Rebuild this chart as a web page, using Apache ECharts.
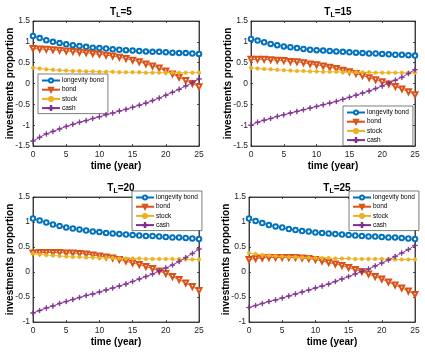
<!DOCTYPE html>
<html>
<head>
<meta charset="utf-8">
<script src="https://cdn.jsdelivr.net/npm/echarts@6/dist/echarts.min.js"></script>
<style>
  html, body { margin: 0; padding: 0; background: #fff; }
  #chart { width: 425px; height: 352px; }
</style>
</head>
<body>
<div id="chart"></div>
<script>
// 时间轴 (year)
var years = [0,1,2,3,4,5,6,7,8,9,10,11,12,13,14,15,16,17,18,19,20,21,22,23,24,25];
var seriesNames = ['longevity bond', 'bond', 'stock', 'cash'];
var panelTitles = ['5', '15', '20', '25'];

// T_L = 5
var longevity5 = [1.14,1.09,1.04,1.00,0.97,0.94,0.92,0.90,0.88,0.86,0.85,0.84,0.82,0.81,0.80,0.79,0.78,0.77,0.76,0.76,0.75,0.74,0.73,0.73,0.72,0.71];
var bond5 = [0.84,0.83,0.82,0.81,0.80,0.78,0.77,0.75,0.74,0.72,0.70,0.68,0.66,0.63,0.60,0.56,0.52,0.47,0.42,0.37,0.30,0.23,0.15,0.07,0.00,-0.08];
var stock5 = [0.38,0.36,0.34,0.33,0.32,0.31,0.30,0.30,0.29,0.29,0.28,0.28,0.28,0.27,0.27,0.27,0.27,0.26,0.26,0.26,0.26,0.26,0.26,0.26,0.26,0.26];
var cash5 = [-1.38,-1.29,-1.21,-1.15,-1.09,-1.03,-0.98,-0.93,-0.89,-0.84,-0.80,-0.75,-0.71,-0.66,-0.62,-0.57,-0.52,-0.47,-0.41,-0.35,-0.28,-0.21,-0.14,-0.06,0.02,0.11];

// T_L = 15
var longevity15 = [1.07,1.03,0.99,0.95,0.92,0.89,0.87,0.85,0.83,0.81,0.80,0.79,0.78,0.77,0.76,0.75,0.74,0.73,0.72,0.72,0.71,0.70,0.69,0.69,0.68,0.67];
var bond15 = [0.58,0.58,0.58,0.57,0.56,0.55,0.53,0.52,0.50,0.47,0.45,0.42,0.39,0.36,0.32,0.28,0.24,0.19,0.14,0.09,0.04,-0.01,-0.07,-0.13,-0.20,-0.27];
var stock15 = [0.38,0.36,0.35,0.34,0.33,0.32,0.31,0.30,0.30,0.29,0.29,0.28,0.28,0.28,0.27,0.27,0.27,0.27,0.27,0.26,0.26,0.26,0.26,0.26,0.26,0.26];
var cash15 = [-1.00,-0.93,-0.88,-0.84,-0.79,-0.75,-0.71,-0.67,-0.63,-0.59,-0.55,-0.51,-0.47,-0.43,-0.38,-0.33,-0.28,-0.23,-0.18,-0.12,-0.06,0.01,0.08,0.15,0.24,0.33];

// T_L = 20
var longevity20 = [1.07,1.03,0.99,0.95,0.92,0.89,0.87,0.85,0.83,0.81,0.80,0.78,0.77,0.76,0.75,0.74,0.73,0.72,0.72,0.71,0.70,0.69,0.69,0.68,0.67,0.66];
var bond20 = [0.38,0.39,0.39,0.39,0.39,0.38,0.38,0.37,0.36,0.34,0.32,0.30,0.28,0.25,0.22,0.18,0.15,0.11,0.07,0.02,-0.03,-0.09,-0.15,-0.22,-0.29,-0.37];
var stock20 = [0.37,0.35,0.34,0.33,0.32,0.31,0.30,0.30,0.29,0.29,0.28,0.28,0.28,0.27,0.27,0.27,0.27,0.26,0.26,0.26,0.26,0.26,0.26,0.25,0.25,0.25];
var cash20 = [-0.82,-0.77,-0.72,-0.68,-0.63,-0.59,-0.55,-0.51,-0.47,-0.44,-0.40,-0.36,-0.32,-0.28,-0.24,-0.19,-0.14,-0.09,-0.04,0.02,0.08,0.14,0.21,0.29,0.37,0.46];

// T_L = 25
var longevity25 = [1.07,1.02,0.98,0.94,0.91,0.89,0.86,0.84,0.82,0.81,0.79,0.78,0.77,0.76,0.75,0.74,0.73,0.72,0.71,0.71,0.70,0.69,0.69,0.68,0.67,0.66];
var bond25 = [0.25,0.27,0.28,0.29,0.29,0.29,0.29,0.29,0.28,0.27,0.25,0.22,0.19,0.16,0.13,0.09,0.05,0.01,-0.04,-0.09,-0.14,-0.20,-0.26,-0.32,-0.38,-0.45];
var stock25 = [0.38,0.36,0.34,0.33,0.32,0.31,0.30,0.30,0.29,0.29,0.28,0.28,0.28,0.27,0.27,0.27,0.26,0.26,0.26,0.26,0.26,0.26,0.25,0.25,0.25,0.25];
var cash25 = [-0.71,-0.67,-0.63,-0.59,-0.56,-0.52,-0.48,-0.44,-0.40,-0.36,-0.32,-0.28,-0.24,-0.19,-0.14,-0.09,-0.04,0.01,0.06,0.12,0.18,0.24,0.31,0.38,0.45,0.53];

var panelData = [
    [longevity5, bond5, stock5, cash5],
    [longevity15, bond15, stock15, cash15],
    [longevity20, bond20, stock20, cash20],
    [longevity25, bond25, stock25, cash25]
];

// 布局 (像素)
var panels = [
    { left: 33, top: 21, width: 166, height: 125, yMin: -1.5, legend: { left: 38, top: 74 } },
    { left: 251, top: 21, width: 164, height: 125, yMin: -1.5, legend: { left: 343, top: 106 } },
    { left: 33, top: 197, width: 166, height: 125, yMin: -1, legend: { left: 132, top: 191 } },
    { left: 249, top: 197, width: 166, height: 125, yMin: -1, legend: { left: 349, top: 191 } }
];

var colors = ['#0072BD', '#D95319', '#EDB120', '#7E2F8E'];
var axisColor = '#262626';
var plusPath = 'path://M4.5,0H5.5V4.5H10V5.5H5.5V10H4.5V5.5H0V4.5H4.5Z';
var markerStyles = [
    { symbol: 'emptyCircle', symbolSize: 4.5, symbolRotate: 0 },
    { symbol: 'emptyTriangle', symbolSize: 5, symbolRotate: 180 },
    { symbol: 'circle', symbolSize: 3.5, symbolRotate: 0 },
    { symbol: plusPath, symbolSize: 5, symbolRotate: 0 }
];

function pairs(vals) {
    var out = [];
    for (var i = 0; i < years.length; i++) {
        out.push([years[i], vals[i]]);
    }
    return out;
}

var chart = echarts.init(document.getElementById('chart'), null, { renderer: 'canvas' });

var grids = [], xAxes = [], yAxes = [], series = [], titles = [], legends = [];

function boxAxis(extra) {
    var a = {
        type: 'value',
        axisLine: { show: true, onZero: false, lineStyle: { color: axisColor, width: 0.8 } },
        axisTick: { show: true, inside: true, length: 2, lineStyle: { color: axisColor, width: 0.8 } },
        splitLine: { show: false }
    };
    for (var key in extra) a[key] = extra[key];
    return a;
}

panels.forEach(function (p, k) {
    grids.push({
        left: p.left, top: p.top, width: p.width, height: p.height,
        show: true, borderColor: axisColor, borderWidth: 0.8, backgroundColor: '#fff'
    });

    // bottom / top x axis
    xAxes.push(boxAxis({
        gridIndex: k, min: 0, max: 25, interval: 5, position: 'bottom',
        name: 'time (year)', nameLocation: 'middle', nameGap: 15, nameMoveOverlap: false,
        nameTextStyle: { fontSize: 10, fontWeight: 'bold', color: '#000', fontFamily: 'Liberation Sans' },
        axisLabel: { fontSize: 8.5, color: axisColor, margin: 4, fontFamily: 'Liberation Sans' }
    }));
    xAxes.push(boxAxis({
        gridIndex: k, min: 0, max: 25, interval: 5, position: 'top',
        axisLabel: { show: false }
    }));

    // left / right y axis
    yAxes.push(boxAxis({
        gridIndex: k, min: p.yMin, max: 1.5, interval: 0.5, position: 'left',
        name: 'investments proportion', nameLocation: 'middle', nameGap: 18, nameMoveOverlap: false,
        nameTextStyle: { fontSize: 10, fontWeight: 'bold', color: '#000', fontFamily: 'Liberation Sans' },
        axisLabel: { fontSize: 8.5, color: axisColor, margin: 3, fontFamily: 'Liberation Sans' }
    }));
    yAxes.push(boxAxis({
        gridIndex: k, min: p.yMin, max: 1.5, interval: 0.5, position: 'right',
        axisLabel: { show: false }
    }));

    // 标题 T_L=...
    titles.push({
        text: '{t|T}{s|L}{t|=' + panelTitles[k] + '}',
        left: p.left + p.width / 2, top: p.top - 20, textAlign: 'center',
        textStyle: {
            rich: {
                t: { fontSize: 10, fontWeight: 'bold', color: '#000', fontFamily: 'Liberation Sans' },
                s: { fontSize: 7, fontWeight: 'bold', color: '#000', fontFamily: 'Liberation Sans', padding: [6, 0, 0, 0] }
            }
        }
    });

    legends.push({
        data: seriesNames,
        orient: 'vertical',
        left: p.legend.left, top: p.legend.top,
        backgroundColor: '#fff', borderColor: axisColor, borderWidth: 0.6,
        padding: [3, 4, 2, 3],
        itemWidth: 18, itemHeight: 5, itemGap: 2.2,
        selectedMode: false,
        textStyle: { fontSize: 6.5, color: '#000', fontFamily: 'Liberation Sans', padding: [0, 0, 0, -3] }
    });

    for (var s = 0; s < 4; s++) {
        series.push({
            name: seriesNames[s],
            type: 'line',
            xAxisIndex: 2 * k, yAxisIndex: 2 * k,
            data: pairs(panelData[k][s]),
            symbol: markerStyles[s].symbol,
            symbolSize: markerStyles[s].symbolSize,
            symbolRotate: markerStyles[s].symbolRotate,
            showAllSymbol: true,
            lineStyle: { color: colors[s], width: 0.9 },
            itemStyle: { color: colors[s], borderColor: colors[s], borderWidth: 0.7 },
            z: 2 + s
        });
    }
});

var option = {
    animation: false,
    color: colors,
    title: titles,
    legend: legends,
    grid: grids,
    xAxis: xAxes,
    yAxis: yAxes,
    series: series
};

chart.setOption(option);
</script>
</body>
</html>
